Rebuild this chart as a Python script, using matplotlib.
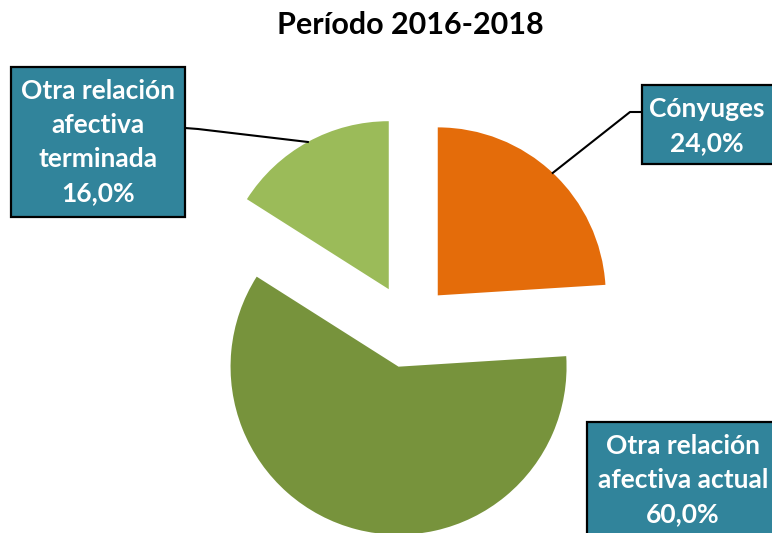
import numpy as np
import matplotlib
matplotlib.use('Agg')
from matplotlib import pyplot as plt
from matplotlib.patches import Rectangle

plt.rcParams['font.family'] = ['Lato', 'DejaVu Sans']

title = 'Período 2016-2018'
labels = ['Cónyuges', 'Otra relación\nafectiva actual', 'Otra relación\nafectiva\nterminada']
values = [24.0, 60.0, 16.0]
colors = ['#E46C0A', '#77933C', '#9BBB59']

W, H = 772, 533
fig = plt.figure(figsize=(W / 100, H / 100), dpi=100)
ax = fig.add_axes([0, 0, 1, 1])

# pie en coordenadas de pixel (y hacia arriba)
cx, cy, r = 409, H - 326, 168
expl = 42  # separacion de las porciones, en pixeles
wedges, _ = ax.pie(values, colors=colors, startangle=90, counterclock=False,
                   center=(cx, cy), radius=r, explode=[expl] * 3)
ax.set_xlim(0, W)
ax.set_ylim(0, H)
ax.axis('off')

ax.text(410, H - 25, title, ha='center', va='center',
        fontsize=22, fontweight='bold', color='black')

box_col = '#31849B'
# (x0, y0 arriba, x1, y1 abajo) en pixeles de imagen, centro del texto
boxes = [
    ((642, 85, 775, 164), (707, 126)),
    ((587, 422, 790, 560), (683, 480)),
    ((11, 67, 185, 217), (98, 142)),
]
elbows = [[(630, 112), (642, 112)], None, [(198, 129), (185, 128)]]

for i, w in enumerate(wedges):
    (x0, y0, x1, y1), (tx, ty) = boxes[i]
    ax.add_patch(Rectangle((x0, H - y1), x1 - x0, y1 - y0, facecolor=box_col,
                           edgecolor='black', lw=1.6, zorder=3, clip_on=False))
    txt = '%s\n%s%%' % (labels[i], ('%.1f' % values[i]).replace('.', ','))
    ax.text(tx, H - ty, txt, ha='center', va='center', color='white',
            fontsize=19, fontweight='bold', linespacing=1.5, zorder=4)
    if elbows[i] is not None:
        ang = np.deg2rad((w.theta1 + w.theta2) / 2)
        ox, oy = w.center
        px, py = ox + r * np.cos(ang), oy + r * np.sin(ang)
        xs = [px] + [p[0] for p in elbows[i]]
        ys = [py] + [H - p[1] for p in elbows[i]]
        ax.plot(xs, ys, color='black', lw=1.5, zorder=2)

fig.savefig('out.png', dpi=100)
